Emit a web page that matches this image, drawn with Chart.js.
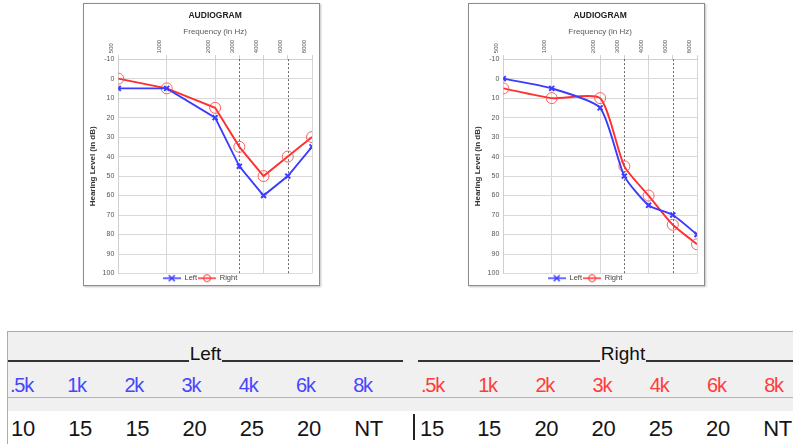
<!DOCTYPE html>
<html>
<head>
<meta charset="utf-8">
<script src="https://cdn.jsdelivr.net/npm/chart.js@4.4.1/dist/chart.umd.min.js"></script>
<style>
  html, body { margin: 0; padding: 0; background: #fff; }
  body { width: 793px; height: 444px; overflow: hidden; position: relative; font-family: 'Liberation Sans', Arial, sans-serif; }
  .box { position: absolute; top: 3px; width: 235px; height: 281px; border: 1px solid #8c8c8c; box-shadow: 1px 1px 2px rgba(0,0,0,0.25); background: #fff; }
  .box canvas { display: block; }
  .table { position: absolute; left: 7px; top: 331px; width: 800px; height: 120px; border-left: 1px solid #a9a9bd; border-top: 1px solid #a9a9bd; background: #f0f0f0; }
  .white { position: absolute; left: 0; right: 0; top: 79px; bottom: 0; background: #fff; }
  .sep { position: absolute; left: 0; right: 0; top: 65px; height: 1px; background: #b4b4b4; }
  .head { position: absolute; top: 10px; height: 21px; display: flex; align-items: flex-end; font-size: 19px; color: #111; }
  .head .ln { flex: 1; height: 2px; background: #333; margin-bottom: 1px; }
  .head span { padding: 0 1px; line-height: 18px; }
  .cell { position: absolute; font-size: 20px; letter-spacing: -1.2px; }
  .val { position: absolute; font-size: 22px; color: #151515; letter-spacing: -0.3px; }
  .bar { position: absolute; left: 405px; top: 82px; width: 2px; height: 26px; background: #222; }
</style>
</head>
<body>

<div class="box" style="left:83px"><canvas id="chart1" width="235" height="281"></canvas></div>
<div class="box" style="left:468px"><canvas id="chart2" width="235" height="281"></canvas></div>

<div class="table" id="table">
  <div class="white"></div>
  <div class="sep"></div>
</div>

<script>
// audiogram frequencies (Hz)
const freqs = [500, 1000, 2000, 3000, 4000, 6000, 8000];
const dashedFreqs = [3000, 6000];

// chart 1 (left picture)
const chart1Left = [5, 5, 20, 45, 60, 50, 35];
const chart1Right = [0, 5, 15, 35, 50, 40, 30];

// chart 2 (right picture)
const chart2Left = [0, 5, 15, 50, 65, 70, 80];
const chart2Right = [5, 10, 10, 45, 60, 75, 85];

// table under the charts
const tableFreqLabels = ['.5k', '1k', '2k', '3k', '4k', '6k', '8k'];
const tableLeft = ['10', '15', '15', '20', '25', '20', 'NT'];
const tableRight = ['15', '15', '20', '20', '25', '20', 'NT'];

const BLUE = '#3c3cff';
const RED = '#ff3030';

Chart.defaults.font.family = "'Liberation Sans', Arial, sans-serif";
Chart.defaults.devicePixelRatio = 1;

// audiogram x convention: octaves from 500 Hz, 3k and 6k sit on the half octave
function octave(f) {
    return Math.round(2 * Math.log2(f / 500)) / 2;
}

function legendIcon(color, style) {
    var c = document.createElement('canvas');
    c.width = 18;
    c.height = 10;
    var g = c.getContext('2d');
    g.strokeStyle = color;
    g.lineWidth = 1.5;
    g.beginPath();
    g.moveTo(0, 5);
    g.lineTo(18, 5);
    g.stroke();
    if (style === 'cross') {
        g.lineWidth = 1.5;
        g.beginPath();
        g.moveTo(6, 2); g.lineTo(12, 8);
        g.moveTo(12, 2); g.lineTo(6, 8);
        g.stroke();
    } else {
        g.lineWidth = 1;
        g.beginPath();
        g.arc(9, 5, 3.5, 0, Math.PI * 2);
        g.stroke();
    }
    return c;
}

var icons = [legendIcon(BLUE, 'cross'), legendIcon(RED, 'circle')];

var dashedLines = {
    id: 'dashedLines',
    beforeDatasetsDraw: function (chart) {
        var x = chart.scales.x, a = chart.chartArea, ctx = chart.ctx;
        ctx.save();
        ctx.strokeStyle = '#666';
        ctx.lineWidth = 1;
        ctx.setLineDash([2, 2]);
        dashedFreqs.forEach(function (f) {
            var px = Math.round(x.getPixelForValue(octave(f))) + 0.5;
            ctx.beginPath();
            ctx.moveTo(px, a.top);
            ctx.lineTo(px, a.bottom);
            ctx.stroke();
        });
        ctx.restore();
    }
};

function points(values) {
    return freqs.map(function (f, i) { return { x: octave(f), y: values[i] }; });
}

function makeAudiogram(id, left, right, tension) {
    var ctx = document.getElementById(id);
    return new Chart(ctx, {
        type: 'line',
        data: {
            datasets: [{
                label: 'Left',
                data: points(left),
                borderColor: BLUE,
                backgroundColor: BLUE,
                borderWidth: 1.9,
                pointStyle: 'crossRot',
                pointRadius: 3.5,
                pointBorderWidth: 2,
                tension: tension
            }, {
                label: 'Right',
                data: points(right),
                borderColor: RED,
                backgroundColor: 'transparent',
                borderWidth: 1.9,
                pointStyle: 'circle',
                pointRadius: 5.5,
                pointBorderWidth: 1,
                pointBorderColor: 'rgba(255,70,70,0.85)',
                pointBackgroundColor: 'transparent',
                tension: tension
            }]
        },
        options: {
            responsive: false,
            animation: false,
            layout: { padding: { left: 4, right: 7, top: 2, bottom: -7 } },
            scales: {
                x: {
                    type: 'linear',
                    position: 'top',
                    min: 0,
                    max: 4,
                    afterBuildTicks: function (scale) {
                        scale.ticks = freqs.map(function (f) { return { value: octave(f) }; });
                    },
                    ticks: {
                        autoSkip: false,
                        minRotation: 90,
                        maxRotation: 90,
                        padding: 2,
                        color: '#555',
                        font: { size: 6 },
                        callback: function (v, i) { return freqs[i]; }
                    },
                    grid: {
                        color: function (c) {
                            if (c.tick && (c.tick.value === octave(3000) || c.tick.value === octave(6000))) return 'transparent';
                            return '#d6d6d6';
                        },
                        tickColor: '#d0d0d0',
                        tickLength: 4
                    },
                    border: { color: '#cfcfcf' },
                    title: {
                        display: true,
                        text: 'Frequency (in Hz)',
                        color: '#595959',
                        font: { size: 8 },
                        padding: { top: 3, bottom: 1 }
                    }
                },
                y: {
                    type: 'linear',
                    reverse: true,
                    min: -10,
                    max: 100,
                    ticks: {
                        stepSize: 5,
                        color: '#555',
                        font: { size: 7 },
                        padding: 4,
                        callback: function (v) { return v % 10 === 0 ? v : ''; }
                    },
                    grid: { color: '#d9d9d9', drawTicks: false },
                    border: { color: '#cfcfcf' },
                    title: {
                        display: true,
                        text: 'Hearing Level (in dB)',
                        color: '#333',
                        font: { size: 8, weight: 'bold' },
                        padding: { top: 0, bottom: 1 }
                    }
                }
            },
            plugins: {
                title: {
                    display: true,
                    text: 'AUDIOGRAM',
                    fullSize: false,
                    color: '#222',
                    font: { size: 8.5, weight: 'bold' },
                    padding: { top: 5, bottom: 3 }
                },
                legend: {
                    position: 'bottom',
                    labels: {
                        usePointStyle: true,
                        pointStyleWidth: 18,
                        boxHeight: 7,
                        padding: 1,
                        color: '#444',
                        font: { size: 7.5 },
                        generateLabels: function (chart) {
                            var items = Chart.defaults.plugins.legend.labels.generateLabels(chart);
                            items.forEach(function (it, i) { it.pointStyle = icons[i]; });
                            return items;
                        }
                    }
                },
                tooltip: { enabled: false }
            }
        },
        plugins: [dashedLines]
    });
}

makeAudiogram('chart1', chart1Left, chart1Right, 0);
makeAudiogram('chart2', chart2Left, chart2Right, 0.2);

// table (positions relative to the table box, which starts at x=7)
var table = document.getElementById('table');

function addHead(text, left, width) {
    var d = document.createElement('div');
    d.className = 'head';
    d.style.left = left + 'px';
    d.style.width = width + 'px';
    d.innerHTML = '<div class="ln"></div><span>' + text + '</span><div class="ln"></div>';
    table.appendChild(d);
}
addHead('Left', 0, 395);
addHead('Right', 410, 410);

function addRow(labels, cls, startX, top, color) {
    labels.forEach(function (t, i) {
        var d = document.createElement('div');
        d.className = cls;
        d.textContent = t;
        d.style.left = (startX + i * 57.2) + 'px';
        d.style.top = top + 'px';
        if (color) d.style.color = color;
        table.appendChild(d);
    });
}
addRow(tableFreqLabels, 'cell', 2, 42, '#4646ff');
addRow(tableFreqLabels, 'cell', 413, 42, '#ff3c3c');
addRow(tableLeft, 'val', 3, 84);
addRow(tableRight, 'val', 412, 84);

var bar = document.createElement('div');
bar.className = 'bar';
table.appendChild(bar);
</script>
</body>
</html>
